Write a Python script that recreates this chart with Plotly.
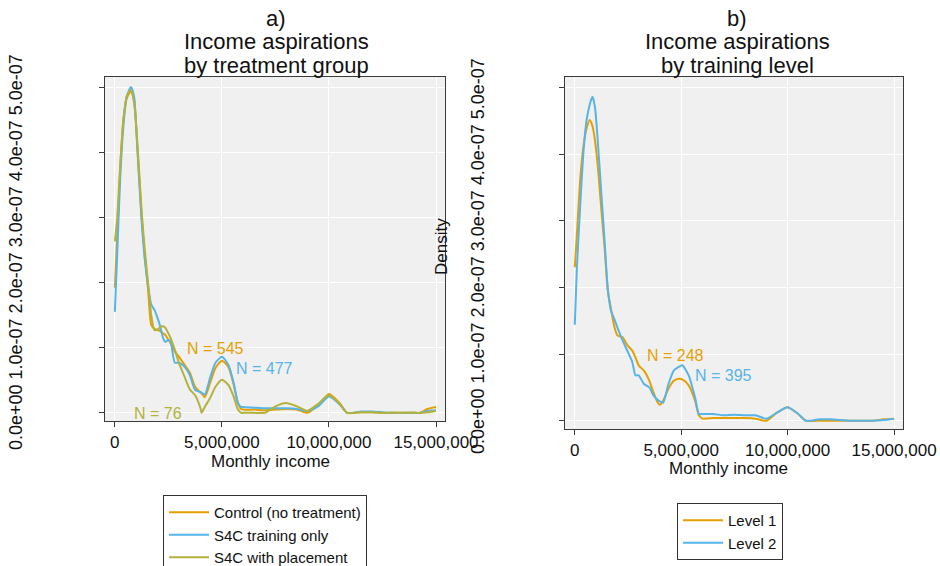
import plotly.graph_objects as go

# ---------------- data ----------------
# Panel a) : income aspirations by treatment group (density, units of 1e-7)
income_a = [0.0, 0.1, 0.25, 0.4, 0.55, 0.75, 0.9, 1.05, 1.25, 1.4, 1.55, 1.7, 1.85, 2.0, 2.1,
            2.25, 2.35, 2.5, 2.6, 2.8, 3.0, 3.25, 3.5, 3.75, 4.0, 4.05, 4.2, 4.45, 4.7, 5.0,
            5.3, 5.55, 5.75, 5.9, 6.0, 6.5, 7.0, 7.5, 8.0, 8.5, 9.0, 9.5, 10.0, 10.5, 10.85,
            11.5, 12.0, 12.5, 13.0, 14.0, 14.25, 14.6, 15.0]  # millions
dens_control = [1.92, 2.65, 3.75, 4.5, 4.82, 4.94, 4.8, 4.1, 3.0, 2.4, 1.9, 1.35, 1.29, 1.27, 1.26,
                1.22, 1.2, 1.12, 1.07, 0.94, 0.86, 0.74, 0.62, 0.4, 0.31, 0.3, 0.24, 0.46, 0.69, 0.8,
                0.71, 0.43, 0.15, 0.06, 0.05, 0.05, 0.04, 0.05, 0.06, 0.05, 0.0, 0.12, 0.29, 0.15, 0.0,
                0.01, 0.01, 0.0, 0.0, 0.0, 0.0, 0.06, 0.09]
dens_training = [1.55, 2.35, 3.6, 4.4, 4.85, 5.0, 4.85, 4.05, 2.95, 2.35, 1.95, 1.66, 1.58, 1.45, 1.35,
                 1.15, 1.09, 1.12, 1.1, 0.77, 0.77, 0.71, 0.58, 0.35, 0.32, 0.31, 0.28, 0.54, 0.77, 0.86,
                 0.74, 0.46, 0.15, 0.09, 0.09, 0.08, 0.07, 0.07, 0.07, 0.06, 0.03, 0.1, 0.25, 0.13, 0.0,
                 0.02, 0.02, 0.01, 0.0, 0.0, 0.0, 0.03, 0.04]
dens_placement = [2.63, 2.95, 3.8, 4.5, 4.85, 4.96, 4.75, 4.15, 3.1, 2.5, 2.0, 1.5, 1.27, 1.28, 1.31,
                  1.33, 1.31, 1.22, 1.15, 0.97, 0.76, 0.56, 0.36, 0.27, 0.07, 0.0, 0.09, 0.23, 0.4, 0.51,
                  0.43, 0.25, 0.05, 0.0, 0.0, 0.0, 0.0, 0.1, 0.15, 0.1, 0.03, 0.14, 0.27, 0.14, 0.0,
                  0.01, 0.01, 0.0, 0.0, 0.0, 0.0, 0.01, 0.03]

# Panel b) : income aspirations by training level
income_b = [0.0, 0.1, 0.25, 0.4, 0.55, 0.7, 0.83, 0.95, 1.1, 1.25, 1.4, 1.55, 1.7, 1.85, 2.0,
            2.25, 2.45, 2.7, 2.85, 3.0, 3.25, 3.5, 3.7, 3.9, 4.0, 4.15, 4.4, 4.65, 4.9, 5.05,
            5.35, 5.65, 5.83, 6.0, 6.5, 7.0, 7.5, 8.0, 8.5, 9.0, 9.5, 10.0, 10.5, 10.85,
            11.5, 12.0, 13.0, 14.0, 14.5, 15.0]  # millions
dens_level1 = [2.3, 2.8, 3.6, 4.1, 4.38, 4.51, 4.42, 4.2, 3.75, 3.15, 2.6, 1.95, 1.68, 1.42, 1.28,
               1.25, 1.14, 1.05, 0.95, 0.83, 0.75, 0.6, 0.42, 0.27, 0.24, 0.3, 0.48, 0.6, 0.63, 0.62,
               0.53, 0.3, 0.08, 0.03, 0.04, 0.04, 0.04, 0.04, 0.03, 0.0, 0.12, 0.2, 0.1, 0.0,
               0.0, 0.0, 0.0, 0.0, 0.02, 0.03]
dens_level2 = [1.44, 2.3, 3.2, 4.0, 4.5, 4.74, 4.86, 4.7, 4.1, 3.4, 2.7, 1.98, 1.65, 1.53, 1.4,
               1.2, 1.06, 0.88, 0.68, 0.68, 0.55, 0.5, 0.38, 0.31, 0.29, 0.27, 0.55, 0.75, 0.81, 0.83,
               0.68, 0.35, 0.1, 0.1, 0.1, 0.08, 0.09, 0.08, 0.08, 0.03, 0.12, 0.2, 0.1, 0.0,
               0.02, 0.02, 0.0, 0.0, 0.01, 0.03]

groups_a = ["Control (no treatment)", "S4C training only", "S4C with placement"]
groups_b = ["Level 1", "Level 2"]
n_a = [545, 477, 76]
n_b = [248, 395]

x_ticks = [0, 5_000_000, 10_000_000, 15_000_000]
y_ticks = [0, 1e-7, 2e-7, 3e-7, 4e-7, 5e-7]
y_tick_labels = ["0.0e+00", "1.0e-07", "2.0e-07", "3.0e-07", "4.0e-07", "5.0e-07"]

# ---------------- style ----------------
FONT = "Liberation Sans, Arial, sans-serif"
C_ORANGE = "#E69F00"
C_BLUE = "#56B4E9"
C_OLIVE = "#B3B23D"
W, H = 940, 566

def px_x(p):
    return p / W

def px_y(p):
    return 1 - p / H

scale_x = 1_000_000
scale_y = 1e-7

fig = go.Figure()

series_a = [(groups_a[0], dens_control, C_ORANGE),
            (groups_a[1], dens_training, C_BLUE),
            (groups_a[2], dens_placement, C_OLIVE)]
for name, d, col in series_a:
    fig.add_trace(go.Scatter(
        x=[v * scale_x for v in income_a], y=[v * scale_y for v in d],
        mode="lines", name=name, line=dict(color=col, width=2, shape="spline", smoothing=0.6),
        xaxis="x", yaxis="y", legend="legend"))

series_b = [(groups_b[0], dens_level1, C_ORANGE),
            (groups_b[1], dens_level2, C_BLUE)]
for name, d, col in series_b:
    fig.add_trace(go.Scatter(
        x=[v * scale_x for v in income_b], y=[v * scale_y for v in d],
        mode="lines", name=name, line=dict(color=col, width=2, shape="spline", smoothing=0.6),
        xaxis="x2", yaxis="y2", legend="legend2"))

x_range = [-0.46e6, 15.42e6]
y_range = [-0.125e-7, 5.155e-7]

common_x = dict(range=x_range, tickvals=x_ticks, tickformat=",", showgrid=True,
                gridcolor="white", gridwidth=1, zeroline=False, showline=True,
                linecolor="#3a3a3a", linewidth=1.3, mirror=True, ticks="outside",
                ticklen=5, tickcolor="#3a3a3a", tickfont=dict(family=FONT, size=17, color="#111"))
common_y = dict(range=y_range, tickvals=y_ticks, showticklabels=False, showgrid=True,
                gridcolor="white", gridwidth=1, zeroline=False, showline=True,
                linecolor="#3a3a3a", linewidth=1.3, mirror=True, ticks="outside",
                ticklen=5, tickcolor="#3a3a3a")

fig.update_layout(
    width=W, height=H,
    margin=dict(l=0, r=0, t=0, b=0, autoexpand=False),
    paper_bgcolor="white",
    plot_bgcolor="#F0F0F0",
    font=dict(family=FONT, color="#111"),
    xaxis=dict(domain=[px_x(105), px_x(445)], anchor="y", **common_x),
    yaxis=dict(domain=[px_y(421), px_y(77)], anchor="x", **common_y),
    xaxis2=dict(domain=[px_x(565), px_x(903)], anchor="y2", **common_x),
    yaxis2=dict(domain=[px_y(429), px_y(77)], anchor="x2", **common_y),
    legend=dict(x=px_x(163), y=px_y(495), xanchor="left", yanchor="top",
                bgcolor="white", bordercolor="#333", borderwidth=1, itemwidth=40,
                font=dict(family=FONT, size=15, color="#111")),
    legend2=dict(x=px_x(677), y=px_y(503), xanchor="left", yanchor="top",
                 bgcolor="white", bordercolor="#333", borderwidth=1, itemwidth=40,
                 font=dict(family=FONT, size=15, color="#111")),
)

ann = []
# Titles
for cx, lines in [(276, ["a)", "Income aspirations", "by treatment group"]),
                  (737, ["b)", "Income aspirations", "by training level"])]:
    for i, t in enumerate(lines):
        ann.append(dict(text=t, x=px_x(cx), y=px_y([18, 42, 65][i]), xref="paper", yref="paper",
                        xanchor="center", yanchor="middle", showarrow=False,
                        font=dict(family=FONT, size=22, color="#111")))
# x axis titles
ann.append(dict(text="Monthly income", x=px_x(270), y=px_y(461), xref="paper", yref="paper",
                xanchor="center", yanchor="middle", showarrow=False,
                font=dict(family=FONT, size=17, color="#111")))
ann.append(dict(text="Monthly income", x=px_x(728), y=px_y(468), xref="paper", yref="paper",
                xanchor="center", yanchor="middle", showarrow=False,
                font=dict(family=FONT, size=17, color="#111")))
# rotated y tick label strings
ytxt = " ".join(y_tick_labels)
ann.append(dict(text=ytxt, x=px_x(16), y=px_y(252), xref="paper", yref="paper", textangle=-90,
                xanchor="center", yanchor="middle", showarrow=False,
                font=dict(family=FONT, size=18, color="#111")))
ann.append(dict(text=ytxt, x=px_x(478), y=px_y(256), xref="paper", yref="paper", textangle=-90,
                xanchor="center", yanchor="middle", showarrow=False,
                font=dict(family=FONT, size=18, color="#111")))
ann.append(dict(text="Density", x=px_x(441), y=px_y(247), xref="paper", yref="paper", textangle=-90,
                xanchor="center", yanchor="middle", showarrow=False,
                font=dict(family=FONT, size=17, color="#111")))

# N labels (data coordinates)
n_pos_a = [(4.70e6, 0.99e-7, C_ORANGE), (7.0e6, 0.685e-7, C_BLUE), (2.0e6, -0.015e-7, C_OLIVE)]
for n, (xx, yy, col) in zip(n_a, n_pos_a):
    ann.append(dict(text=f"N = {n}", x=xx, y=yy, xref="x", yref="y", showarrow=False,
                    xanchor="center", yanchor="middle", font=dict(family=FONT, size=16, color=col)))
n_pos_b = [(4.71e6, 0.976e-7, C_ORANGE), (7.0e6, 0.676e-7, C_BLUE)]
for n, (xx, yy, col) in zip(n_b, n_pos_b):
    ann.append(dict(text=f"N = {n}", x=xx, y=yy, xref="x2", yref="y2", showarrow=False,
                    xanchor="center", yanchor="middle", font=dict(family=FONT, size=16, color=col)))

fig.update_layout(annotations=ann)
fig.write_html("out.html", config={"displayModeBar": False},
               post_script="document.body.style.margin='0px';document.body.style.overflow='hidden';")
